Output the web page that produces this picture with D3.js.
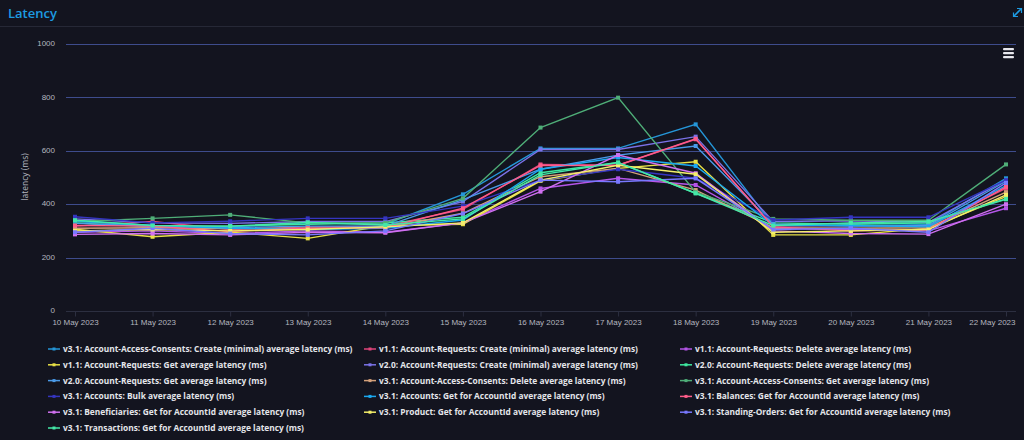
<!DOCTYPE html>
<html lang="en">
<head>
<meta charset="utf-8">
<script src="https://d3js.org/d3.v7.min.js"></script>
<style>
  body { margin: 0; background: #13141f; }
  svg { font-family: 'Open Sans', sans-serif; display: block; }
  .grid line { stroke: #3e4c8c; stroke-width: 1; }
  .axis text { fill: #b4b6bf; font-size: 8px; }
  .legend text { fill: #e4e5ea; font-size: 8.35px; font-weight: 700; }
  .series path { fill: none; stroke-width: 1.4; }
</style>
</head>
<body>
<svg width="1024" height="440"></svg>
<script>
// dates on the x axis
var dates = ["10 May 2023", "11 May 2023", "12 May 2023", "13 May 2023", "14 May 2023",
  "15 May 2023", "16 May 2023", "17 May 2023", "18 May 2023", "19 May 2023",
  "20 May 2023", "21 May 2023", "22 May 2023"];

var yTicks = [0, 200, 400, 600, 800, 1000];

var names = [
  "v3.1: Account-Access-Consents: Create (minimal) average latency (ms)",
  "v1.1: Account-Requests: Create (minimal) average latency (ms)",
  "v1.1: Account-Requests: Delete average latency (ms)",
  "v1.1: Account-Requests: Get average latency (ms)",
  "v2.0: Account-Requests: Create (minimal) average latency (ms)",
  "v2.0: Account-Requests: Delete average latency (ms)",
  "v2.0: Account-Requests: Get average latency (ms)",
  "v3.1: Account-Access-Consents: Delete average latency (ms)",
  "v3.1: Account-Access-Consents: Get average latency (ms)",
  "v3.1: Accounts: Bulk average latency (ms)",
  "v3.1: Accounts: Get for AccountId average latency (ms)",
  "v3.1: Balances: Get for AccountId average latency (ms)",
  "v3.1: Beneficiaries: Get for AccountId average latency (ms)",
  "v3.1: Product: Get for AccountId average latency (ms)",
  "v3.1: Standing-Orders: Get for AccountId average latency (ms)",
  "v3.1: Transactions: Get for AccountId average latency (ms)"
];

var colors = ["#2596d8", "#e0457b", "#b455e8", "#e8e045", "#7b72e8", "#3ee8a0",
  "#4a9ae8", "#d4a07a", "#4fae78", "#3535c0", "#1aa8f0", "#ff5c8a",
  "#d070f0", "#f4ef6a", "#7878ff", "#44e8a8"];

var aacCreate     = [335, 320, 315, 330, 325, 437, 609, 609, 699, 322, 328, 325, 497];
var arCreate11    = [318, 335, 305, 315, 318, 381, 549, 546, 643, 318, 320, 318, 459];
var arDelete11    = [295, 300, 290, 300, 295, 330, 459, 497, 472, 310, 305, 300, 385];
var arGet11       = [306, 278, 295, 272, 320, 325, 487, 534, 559, 285, 285, 310, 428];
var arCreate20    = [345, 330, 328, 335, 335, 410, 605, 605, 653, 335, 338, 332, 490];
var arDelete20    = [330, 315, 318, 325, 330, 351, 518, 556, 441, 330, 325, 330, 418];
var arGet20       = [328, 318, 312, 318, 318, 417, 531, 584, 618, 325, 318, 320, 486];
var aacDelete     = [310, 312, 308, 310, 312, 366, 503, 534, 453, 312, 310, 312, 445];
var aacGet        = [335, 347, 360, 330, 330, 422, 687, 799, 445, 345, 340, 340, 549];
var accountsBulk  = [353, 330, 336, 347, 347, 393, 490, 531, 497, 341, 351, 351, 490];
var accountsGet   = [338, 320, 310, 305, 310, 341, 531, 575, 543, 320, 320, 315, 470];
var balances      = [320, 318, 298, 310, 312, 385, 545, 546, 645, 315, 300, 305, 465];
var beneficiaries = [287, 290, 285, 295, 293, 330, 447, 584, 516, 300, 290, 288, 400];
var product       = [300, 305, 300, 305, 315, 330, 490, 546, 512, 295, 300, 305, 435];
var standingOrd   = [295, 310, 290, 285, 300, 365, 490, 484, 497, 305, 310, 295, 480];
var transactions  = [340, 320, 318, 332, 322, 345, 510, 556, 441, 320, 330, 335, 420];

var seriesValues = [aacCreate, arCreate11, arDelete11, arGet11, arCreate20, arDelete20,
  arGet20, aacDelete, aacGet, accountsBulk, accountsGet, balances, beneficiaries,
  product, standingOrd, transactions];

var svg = d3.select("svg");

// header
svg.append("text").attr("x", 8).attr("y", 18)
  .attr("fill", "#1d9be2").attr("font-size", "13px").attr("font-weight", 600)
  .text("Latency");
svg.append("line").attr("x1", 0).attr("x2", 1024).attr("y1", 26.5).attr("y2", 26.5)
  .attr("stroke", "#262836");

// expand icon top right
var ic = svg.append("g").attr("stroke", "#1d9be2").attr("stroke-width", 1.6).attr("fill", "none");
ic.append("line").attr("x1", 1014).attr("y1", 16).attr("x2", 1021).attr("y2", 9);
ic.append("path").attr("d", "M1017,8.5 H1021.5 V13").attr("stroke-width", 1.2);
ic.append("path").attr("d", "M1013.5,12.5 V16.5 H1018").attr("stroke-width", 1.2);

var x = d3.scalePoint().domain(dates).range([75, 1006]);
var y = d3.scaleLinear().domain([0, 1000]).range([311, 44]);

// gridlines
svg.append("g").attr("class", "grid")
  .selectAll("line").data(yTicks.filter(function (d) { return d > 0; }))
  .enter().append("line")
  .attr("x1", 66).attr("x2", 1016)
  .attr("y1", function (d) { return Math.round(y(d)) + 0.5; })
  .attr("y2", function (d) { return Math.round(y(d)) + 0.5; });

// x axis
var xAxis = svg.append("g").attr("class", "axis")
  .attr("transform", "translate(0,311.5)")
  .call(d3.axisBottom(x).tickSize(5).tickPadding(3));
xAxis.select(".domain").attr("stroke", "#2c2f40").attr("d", "M66,0H1016");
xAxis.selectAll(".tick line").attr("stroke", "#2c2f40");
// last label kept inside the plot like the original
xAxis.selectAll(".tick text")
  .filter(function (d) { return d === dates[dates.length - 1]; })
  .attr("text-anchor", "end").attr("x", 9);

// y axis
var yAxis = svg.append("g").attr("class", "axis")
  .attr("transform", "translate(55,0)")
  .call(d3.axisLeft(y).tickValues(yTicks).tickFormat(d3.format("d")).tickSize(0).tickPadding(0));
yAxis.select(".domain").remove();
yAxis.selectAll("text").attr("dy", "0.2em");

svg.append("text").attr("class", "axis")
  .attr("transform", "translate(28,177) rotate(-90)")
  .attr("text-anchor", "middle").attr("fill", "#b4b6bf").attr("font-size", "8.5px")
  .text("latency (ms)");

// hamburger
var hb = svg.append("g").attr("fill", "#e8e8ee");
[48, 52, 56].forEach(function (yy) {
  hb.append("rect").attr("x", 1003).attr("y", yy).attr("width", 11).attr("height", 2.2).attr("rx", 1);
});

// series
var line = d3.line()
  .x(function (d, i) { return x(dates[i]); })
  .y(function (d) { return y(d); });

var series = svg.append("g").attr("class", "series")
  .selectAll("g").data(seriesValues).enter().append("g");
series.append("path")
  .attr("stroke", function (d, i) { return colors[i]; })
  .attr("d", line);
series.selectAll("rect").data(function (d, i) { return d.map(function (v) { return { v: v, c: colors[i] }; }); })
  .enter().append("rect")
  .attr("x", function (d, i) { return x(dates[i]) - 2; })
  .attr("y", function (d) { return y(d.v) - 2; })
  .attr("width", 4).attr("height", 4)
  .attr("fill", function (d) { return d.c; });

// legend
var colX = [48, 364, 680];
var legend = svg.append("g").attr("class", "legend")
  .selectAll("g").data(names).enter().append("g")
  .attr("transform", function (d, i) {
    return "translate(" + colX[i % 3] + "," + (349 + Math.floor(i / 3) * 15.8) + ")";
  });
legend.append("line").attr("x1", 0).attr("x2", 12).attr("y1", 0).attr("y2", 0)
  .attr("stroke", function (d, i) { return colors[i]; }).attr("stroke-width", 1.5);
legend.append("rect").attr("x", 4.5).attr("y", -1.5).attr("width", 3).attr("height", 3)
  .attr("fill", function (d, i) { return colors[i]; });
legend.append("text").attr("x", 15).attr("y", 3).text(function (d) { return d; });
</script>
</body>
</html>
